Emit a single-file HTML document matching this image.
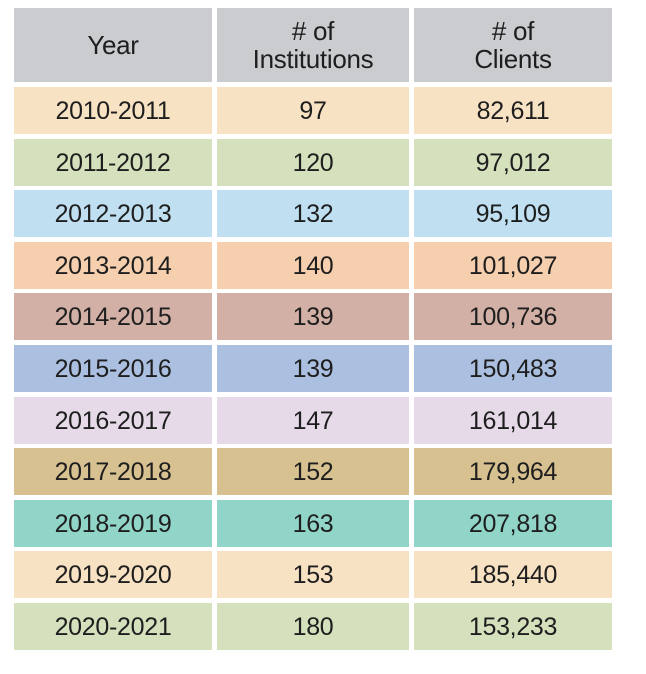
<!DOCTYPE html>
<html><head><style>
body{margin:0;width:646px;height:674px;background:#fff;font-family:"Liberation Sans",sans-serif;color:#1e1e1e;position:relative;overflow:hidden}
.c{position:absolute;display:flex;align-items:center;justify-content:center;text-align:center;font-size:25px;line-height:28px;letter-spacing:-0.3px}
.h{font-size:26px;line-height:28px}
</style></head><body>
<div id="t"></div>
<script>
const rows=[["2010-2011","97","82,611","#f8e2c4"],["2011-2012","120","97,012","#d5e0bd"],["2012-2013","132","95,109","#c0e0f2"],["2013-2014","140","101,027","#f5cfae"],["2014-2015","139","100,736","#d3b0a5"],["2015-2016","139","150,483","#abbfe0"],["2016-2017","147","161,014","#e6dae8"],["2017-2018","152","179,964","#d7c190"],["2018-2019","163","207,818","#91d5c8"],["2019-2020","153","185,440","#f8e2c4"],["2020-2021","180","153,233","#d5e0bd"]];
const cols=[[14,198],[217,192],[414,198]];
let h='';
const hd=["Year","# of<br>Institutions","# of<br>Clients"];
cols.forEach((c,i)=>{h+=`<div class="c h" style="left:${c[0]}px;top:8px;width:${c[1]}px;height:74px;background:#caccd0">${hd[i]}</div>`});
rows.forEach((r,j)=>{const y=Math.round(87+j*51.6);cols.forEach((c,i)=>{h+=`<div class="c" style="left:${c[0]}px;top:${y}px;width:${c[1]}px;height:47px;background:${r[3]}">${r[i]}</div>`})});
document.getElementById('t').innerHTML=h;
</script>
</body></html>
